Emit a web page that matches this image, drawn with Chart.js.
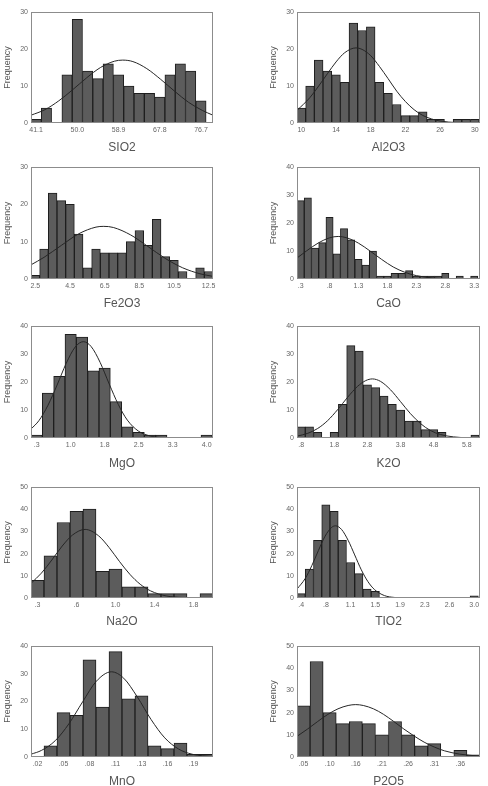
<!DOCTYPE html>
<html>
<head>
<meta charset="utf-8">
<script src="https://cdn.jsdelivr.net/npm/chart.js@4.4.0/dist/chart.umd.min.js"></script>
<style>
  html, body { margin: 0; padding: 0; background: #fff; overflow: hidden; width: 488px; height: 786px; }
  canvas { position: absolute; }
</style>
</head>
<body>
<script>
// --- data (bin centres, counts, fitted curve, ticks) ---

const sio2Bins = [41.1, 43.325, 45.55, 47.775, 50.0, 52.225, 54.45, 56.675, 58.9, 61.125, 63.35, 65.575, 67.8, 70.025, 72.25, 74.475, 76.7];
const sio2Counts = [1, 4, 0, 13, 28, 14, 12, 16, 13, 10, 8, 8, 7, 13, 16, 14, 6];
const sio2CurveX = [39.99, 43, 46, 49, 52, 55, 58, 59.8, 62, 65, 68, 71, 74, 77, 79.3];
const sio2CurveY = [2.1, 3.6, 6.0, 9.0, 12.2, 15.0, 16.7, 17.0, 16.6, 14.7, 11.8, 8.6, 5.6, 3.4, 2.1];
const sio2Ticks = [41.1, 50.0, 58.9, 67.8, 76.7];
const sio2TickLabels = ['41.1', '50.0', '58.9', '67.8', '76.7'];
const sio2Range = [39.99, 79.3];

const al2o3Bins = [10, 11, 12, 13, 14, 15, 16, 17, 18, 19, 20, 21, 22, 23, 24, 25, 26, 27, 28, 29, 30];
const al2o3Counts = [4, 10, 17, 14, 13, 11, 27, 25, 26, 11, 8, 5, 2, 2, 3, 1, 1, 0, 1, 1, 1];
const al2o3CurveX = [9.5, 11, 12, 13, 14, 15, 16.3, 17, 18, 19, 20, 21, 22, 23, 24, 25, 26, 28, 30.6];
const al2o3CurveY = [3.4, 6.9, 10.0, 13.3, 16.5, 19.0, 20.3, 19.9, 18.2, 15.3, 12.0, 8.6, 5.8, 3.6, 2.05, 1.1, 0.54, 0.1, 0.0];
const al2o3Ticks = [10, 14, 18, 22, 26, 30];
const al2o3TickLabels = ['10', '14', '18', '22', '26', '30'];
const al2o3Range = [9.5, 30.6];

const fe2o3Bins = [2.5, 3.0, 3.5, 4.0, 4.5, 5.0, 5.5, 6.0, 6.5, 7.0, 7.5, 8.0, 8.5, 9.0, 9.5, 10.0, 10.5, 11.0, 11.5, 12.0, 12.5];
const fe2o3Counts = [1, 8, 23, 21, 20, 12, 3, 8, 7, 7, 7, 10, 13, 9, 16, 6, 5, 2, 0, 3, 2];
const fe2o3CurveX = [2.25, 3, 4, 5, 6, 6.45, 7, 8, 9, 10, 11, 12, 12.75];
const fe2o3CurveY = [3.8, 5.8, 9.0, 12.1, 13.9, 14.1, 13.8, 11.8, 8.7, 5.5, 3.0, 1.4, 0.7];
const fe2o3Ticks = [2.5, 4.5, 6.5, 8.5, 10.5, 12.5];
const fe2o3TickLabels = ['2.5', '4.5', '6.5', '8.5', '10.5', '12.5'];
const fe2o3Range = [2.25, 12.75];

const caoBins = [0.3, 0.425, 0.55, 0.675, 0.8, 0.925, 1.05, 1.175, 1.3, 1.425, 1.55, 1.675, 1.8, 1.925, 2.05, 2.175, 2.3, 2.425, 2.55, 2.675, 2.8, 2.925, 3.05, 3.175, 3.3];
const caoCounts = [28, 29, 11, 13, 22, 9, 18, 14, 7, 5, 10, 1, 1, 2, 2, 3, 1, 1, 1, 1, 2, 0, 1, 0, 1];
const caoCurveX = [0.2375, 0.4, 0.6, 0.8, 0.95, 1.1, 1.3, 1.5, 1.7, 1.9, 2.1, 2.3, 2.6, 3.0, 3.4];
const caoCurveY = [7.5, 10.0, 12.8, 14.7, 15.2, 14.7, 12.8, 10.0, 7.0, 4.3, 2.4, 1.2, 0.35, 0.03, 0];
const caoTicks = [0.3, 0.8, 1.3, 1.8, 2.3, 2.8, 3.3];
const caoTickLabels = ['.3', '.8', '1.3', '1.8', '2.3', '2.8', '3.3'];
const caoRange = [0.2375, 3.4];

const mgoBins = [0.25, 0.5, 0.75, 1.0, 1.25, 1.5, 1.75, 2.0, 2.25, 2.5, 2.75, 3.0, 3.25, 3.5, 3.75, 4.0];
const mgoCounts = [1, 16, 22, 37, 36, 24, 25, 13, 4, 2, 1, 1, 0, 0, 0, 1];
const mgoCurveX = [0.125, 0.3, 0.5, 0.7, 0.9, 1.1, 1.28, 1.45, 1.65, 1.85, 2.05, 2.25, 2.5, 2.75, 3.0, 3.5, 4.14];
const mgoCurveY = [3.2, 6.2, 11.7, 18.9, 26.6, 32.5, 34.4, 32.7, 27.0, 19.3, 12.0, 6.4, 2.4, 0.74, 0.18, 0, 0];
const mgoTicks = [0.25, 1.0, 1.75, 2.5, 3.25, 4.0];
const mgoTickLabels = ['.3', '1.0', '1.8', '2.5', '3.3', '4.0'];
const mgoRange = [0.125, 4.14];

const k2oBins = [0.8, 1.05, 1.3, 1.55, 1.8, 2.05, 2.3, 2.55, 2.8, 3.05, 3.3, 3.55, 3.8, 4.05, 4.3, 4.55, 4.8, 5.05, 5.3, 5.55, 5.8, 6.05];
const k2oCounts = [4, 4, 2, 0, 2, 12, 33, 31, 19, 18, 15, 12, 10, 6, 6, 3, 3, 2, 0, 0, 0, 1];
const k2oCurveX = [0.675, 1.0, 1.3, 1.6, 1.9, 2.2, 2.5, 2.75, 2.95, 3.2, 3.5, 3.8, 4.1, 4.4, 4.7, 5.0, 5.4, 5.8, 6.2];
const k2oCurveY = [0.66, 1.67, 3.4, 6.2, 10.1, 14.5, 18.4, 20.5, 21.1, 20.2, 17.2, 13.0, 8.7, 5.2, 2.7, 1.27, 0.4, 0.1, 0.02];
const k2oTicks = [0.8, 1.8, 2.8, 3.8, 4.8, 5.8];
const k2oTickLabels = ['.8', '1.8', '2.8', '3.8', '4.8', '5.8'];
const k2oRange = [0.675, 6.2];

const na2oBins = [0.2625, 0.3875, 0.5125, 0.6375, 0.7625, 0.8875, 1.0125, 1.1375, 1.2625, 1.3875, 1.5125, 1.6375, 1.7625, 1.8875];
const na2oCounts = [8, 19, 34, 39, 40, 12, 13, 5, 5, 2, 2, 2, 0, 2];
const na2oCurveX = [0.2, 0.3, 0.4, 0.5, 0.6, 0.72, 0.85, 0.95, 1.05, 1.15, 1.25, 1.35, 1.5, 1.65, 1.8, 1.95];
const na2oCurveY = [6.6, 11.2, 17.1, 23.4, 28.4, 30.9, 28.0, 22.8, 16.5, 10.7, 6.2, 3.2, 0.93, 0.22, 0.04, 0];
const na2oTicks = [0.2625, 0.6375, 1.0125, 1.3875, 1.7625];
const na2oTickLabels = ['.3', '.6', '1.0', '1.4', '1.8'];
const na2oRange = [0.2, 1.95];

const tio2Bins = [0.3875, 0.5125, 0.6375, 0.7625, 0.8875, 1.0125, 1.1375, 1.2625, 1.3875, 1.5125, 1.6375, 1.7625, 1.8875, 2.0125, 2.1375, 2.2625, 2.3875, 2.5125, 2.6375, 2.7625, 2.8875, 3.0125];
const tio2Counts = [2, 13, 26, 42, 39, 26, 16, 11, 4, 3, 0, 0, 0, 0, 0, 0, 0, 0, 0, 0, 0, 1];
const tio2CurveX = [0.325, 0.45, 0.55, 0.65, 0.75, 0.85, 0.91, 1.0, 1.1, 1.2, 1.3, 1.4, 1.5, 1.65, 1.8, 2.0, 3.1];
const tio2CurveY = [4.0, 8.8, 14.6, 21.4, 27.8, 31.8, 32.5, 30.9, 26.0, 19.4, 12.7, 7.4, 3.8, 1.1, 0.25, 0.02, 0];
const tio2Ticks = [0.3875, 0.7625, 1.1375, 1.5125, 1.8875, 2.2625, 2.6375, 3.0125];
const tio2TickLabels = ['.4', '.8', '1.1', '1.5', '1.9', '2.3', '2.6', '3.0'];
const tio2Range = [0.325, 3.1];

const mnoBins = [0.0205, 0.03475, 0.049, 0.06325, 0.0775, 0.09175, 0.106, 0.12025, 0.1345, 0.14875, 0.163, 0.17725, 0.1915, 0.20575];
const mnoCounts = [0, 4, 16, 15, 35, 18, 38, 21, 22, 4, 3, 5, 1, 1];
const mnoCurveX = [0.0134, 0.025, 0.04, 0.055, 0.07, 0.085, 0.1015, 0.115, 0.13, 0.145, 0.16, 0.175, 0.19, 0.2129];
const mnoCurveY = [1.0, 2.4, 5.9, 12.0, 19.9, 27.3, 30.7, 28.4, 21.6, 13.5, 6.9, 2.9, 1.0, 0.14];
const mnoTicks = [0.0205, 0.049, 0.0775, 0.106, 0.1345, 0.163, 0.1915];
const mnoTickLabels = ['.02', '.05', '.08', '.11', '.13', '.16', '.19'];
const mnoRange = [0.013375, 0.212875];

const p2o5Bins = [0.052, 0.0778, 0.1036, 0.1294, 0.1552, 0.181, 0.2068, 0.2326, 0.2584, 0.2842, 0.31, 0.3358, 0.3616, 0.3874];
const p2o5Counts = [23, 43, 20, 15, 16, 15, 10, 16, 10, 5, 6, 0, 3, 1];
const p2o5CurveX = [0.0391, 0.06, 0.08, 0.10, 0.12, 0.14, 0.155, 0.17, 0.19, 0.21, 0.23, 0.25, 0.27, 0.29, 0.31, 0.33, 0.36, 0.4003];
const p2o5CurveY = [9.3, 12.6, 16.0, 19.2, 21.7, 23.2, 23.6, 23.2, 21.7, 19.2, 16.0, 12.6, 9.5, 6.7, 4.5, 2.8, 1.3, 0.37];
const p2o5Ticks = [0.052, 0.1036, 0.1552, 0.2068, 0.2584, 0.31, 0.3616];
const p2o5TickLabels = ['.05', '.10', '.16', '.21', '.26', '.31', '.36'];
const p2o5Range = [0.0391, 0.4003];

const oxideNames = ['SIO2', 'Al2O3', 'Fe2O3', 'CaO', 'MgO', 'K2O', 'Na2O', 'TIO2', 'MnO', 'P2O5'];
const yMaxes = [30, 30, 30, 40, 40, 40, 50, 50, 40, 50];

const panels = [
  [sio2Bins, sio2Counts, sio2CurveX, sio2CurveY, sio2Ticks, sio2TickLabels, sio2Range],
  [al2o3Bins, al2o3Counts, al2o3CurveX, al2o3CurveY, al2o3Ticks, al2o3TickLabels, al2o3Range],
  [fe2o3Bins, fe2o3Counts, fe2o3CurveX, fe2o3CurveY, fe2o3Ticks, fe2o3TickLabels, fe2o3Range],
  [caoBins, caoCounts, caoCurveX, caoCurveY, caoTicks, caoTickLabels, caoRange],
  [mgoBins, mgoCounts, mgoCurveX, mgoCurveY, mgoTicks, mgoTickLabels, mgoRange],
  [k2oBins, k2oCounts, k2oCurveX, k2oCurveY, k2oTicks, k2oTickLabels, k2oRange],
  [na2oBins, na2oCounts, na2oCurveX, na2oCurveY, na2oTicks, na2oTickLabels, na2oRange],
  [tio2Bins, tio2Counts, tio2CurveX, tio2CurveY, tio2Ticks, tio2TickLabels, tio2Range],
  [mnoBins, mnoCounts, mnoCurveX, mnoCurveY, mnoTicks, mnoTickLabels, mnoRange],
  [p2o5Bins, p2o5Counts, p2o5CurveX, p2o5CurveY, p2o5Ticks, p2o5TickLabels, p2o5Range]
];

// --- page layout ---
const colLeft = [0, 266];
const colPadRight = [9, 8];
const rowTop = [4, 159, 318, 479, 638];
const rowHeight = [153, 154, 155, 152, 153];
const rowAxisHeight = [34, 34, 35, 33, 34];
const canvasWidth = 222;
const yAxisWidth = 31;
const FONT = 'Liberation Sans, Arial, Helvetica, sans-serif';

// plot frame around the chart area
const framePlugin = {
  id: 'frame',
  afterDraw(chart) {
    const a = chart.chartArea;
    const ctx = chart.ctx;
    ctx.save();
    ctx.strokeStyle = '#8c8c8c';
    ctx.lineWidth = 1;
    ctx.strokeRect(Math.round(a.left) + 0.5, Math.round(a.top) + 0.5,
      Math.round(a.right - a.left) - 1, Math.round(a.bottom - a.top) - 1);
    ctx.restore();
  }
};

function makeHistogram(i) {
  const [bins, counts, curveX, curveY, ticks, tickLabels, range] = panels[i];
  const row = Math.floor(i / 2), col = i % 2;

  const canvas = document.createElement('canvas');
  canvas.width = canvasWidth;
  canvas.height = rowHeight[row];
  canvas.style.left = colLeft[col] + 'px';
  canvas.style.top = rowTop[row] + 'px';
  document.body.appendChild(canvas);

  return new Chart(canvas.getContext('2d'), {
    type: 'bar',
    data: {
      datasets: [{
        type: 'line',
        order: 0,
        data: curveX.map((x, k) => ({ x: x, y: curveY[k] })),
        borderColor: '#262626',
        borderWidth: 1,
        pointRadius: 0,
        fill: false,
        cubicInterpolationMode: 'monotone'
      }, {
        type: 'bar',
        order: 1,
        data: bins.map((x, k) => ({ x: x, y: counts[k] })),
        backgroundColor: '#5c5c5c',
        borderColor: '#1e1e1e',
        borderWidth: 1,
        barPercentage: 1,
        categoryPercentage: 1
      }]
    },
    options: {
      responsive: false,
      animation: false,
      events: [],
      layout: { padding: { top: 8, right: colPadRight[col], left: 0, bottom: 0 } },
      plugins: { legend: { display: false }, tooltip: { enabled: false } },
      scales: {
        x: {
          type: 'linear',
          offset: false,
          min: range[0],
          max: range[1],
          grid: { display: false, drawTicks: false },
          border: { display: false },
          afterBuildTicks: s => { s.ticks = ticks.map(v => ({ value: v })); },
          afterFit: s => { s.height = rowAxisHeight[row]; },
          ticks: {
            autoSkip: false,
            maxRotation: 0,
            padding: 3,
            color: '#666',
            font: { family: FONT, size: 7 },
            callback: (v, k) => tickLabels[k]
          },
          title: {
            display: true,
            text: oxideNames[i],
            color: '#555',
            font: { family: FONT, size: 12 },
            padding: { top: 0, bottom: 2 }
          }
        },
        y: {
          min: 0,
          max: yMaxes[i],
          grid: { display: false, drawTicks: false },
          border: { display: false },
          afterFit: s => { s.width = yAxisWidth; },
          ticks: {
            stepSize: 10,
            padding: 3,
            color: '#666',
            font: { family: FONT, size: 7 }
          },
          title: {
            display: true,
            text: 'Frequency',
            color: '#555',
            font: { family: FONT, size: 9 },
            padding: { top: 2, bottom: 0 }
          }
        }
      }
    },
    plugins: [framePlugin]
  });
}

for (let i = 0; i < panels.length; i++) makeHistogram(i);
</script>
</body>
</html>
